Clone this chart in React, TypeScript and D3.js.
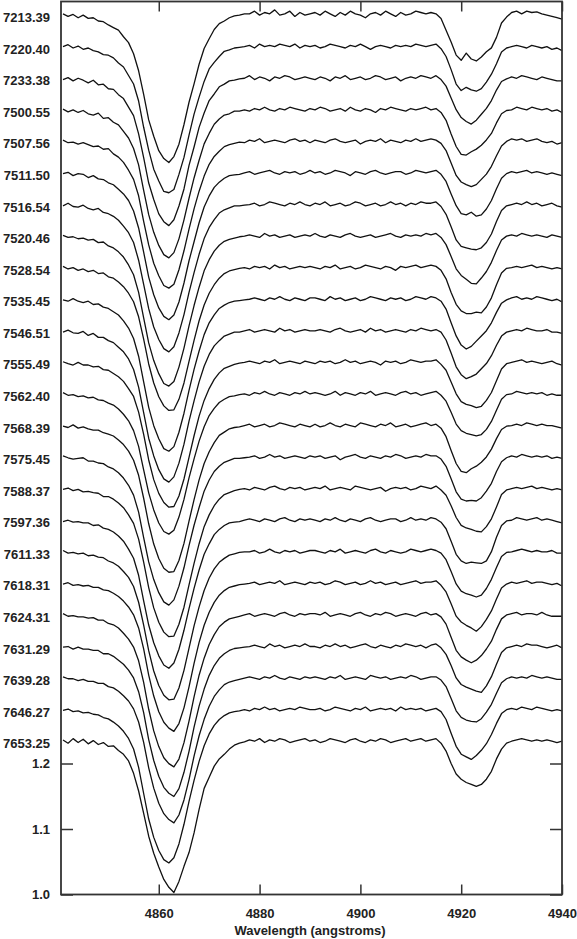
import { useEffect, useRef } from 'react';
import * as d3 from 'd3';

const WIDTH = 577;
const HEIGHT = 939;
const PLOT = { left: 61, right: 562, top: 1.5, bottom: 894.5 };

// wavelength grid: 1 angstrom steps from 4841 to 4940
const WAVE_START = 4841;
const X_DOMAIN = [4840.6, 4940];
const X_TICKS = [4860, 4880, 4900, 4920, 4940];
const Y_TICKS = [1.0, 1.1, 1.2];
const Y_MIN = 1.0;
const Y_MAX = 2.3634;

// continuum level of the lowest spectrum and the offset between spectra
const BASE_LEVEL = 1.234;
const STEP = 0.0482;

const EPOCHS = [
  '7213.39', '7220.40', '7233.38', '7500.55', '7507.56', '7511.50',
  '7516.54', '7520.46', '7528.54', '7535.45', '7546.51', '7555.49',
  '7562.40', '7568.39', '7575.45', '7588.37', '7597.36', '7611.33',
  '7618.31', '7624.31', '7631.29', '7639.28', '7646.27', '7653.25',
];

// flux minus continuum, in thousandths (4841..4940 A)
const f7213_39 = [
  2, -2, 1, -4, 0, -5, -4, -9, -10, -15, -19, -23, -33, -42, -59, -85, -121, -160, -185, -207, -219, -225, -216, -197, -167,
  -133, -105, -75, -51, -36, -22, -13, -9, -4, -1, 0, 2, 2, 6, 0, 4, 2, 8, 0, 2, 6, -2, 4, 0, 2,
  4, 0, 6, 2, -2, 4, 0, 6, 2, 0, -4, 2, 4, 0, 6, 2, -2, 4, 0, 2, 6, 4, 2, 4, 2,
  -5, -23, -41, -61, -69, -58, -67, -70, -64, -56, -50, -34, -12, -3, 4, 6, 2, 6, 4, 5, 2, 0, -2, -4, -6,
];
const f7220_40 = [
  0, 3, -2, 1, -4, -2, -6, -8, -12, -13, -17, -25, -31, -44, -57, -83, -123, -158, -187, -205, -221, -223, -218, -195, -169,
  -135, -103, -77, -53, -34, -24, -15, -7, -5, -2, -1, 0, 2, -2, 4, 0, 2, 0, 4, 2, 0, 4, -2, 2, 0,
  2, -2, 0, 4, 2, 0, -2, 2, 0, 4, 0, -4, 0, 2, 0, -2, 2, 0, 2, 0, 4, 2, 0, 2, 4,
  -3, -15, -35, -57, -67, -62, -66, -68, -64, -54, -42, -26, -8, -2, 0, 2, 0, -2, 2, 0, -2, 0, -4, -2, -6,
];
const f7233_38 = [
  -2, 1, -4, 0, -3, -7, -3, -10, -9, -16, -17, -25, -31, -44, -57, -85, -121, -160, -185, -207, -219, -225, -216, -195, -169,
  -133, -105, -75, -53, -34, -24, -13, -9, -4, -3, -1, 0, 4, -2, 2, 0, -4, 2, 0, 4, 2, -2, 0, 2, 0,
  -2, 2, 0, -4, 2, 0, 4, -2, 0, 2, -2, 0, 4, 2, -2, 0, 2, -4, 0, 2, 0, 4, 2, 0, 4,
  -2, -12, -30, -48, -60, -66, -70, -64, -55, -46, -34, -18, -5, -1, 2, 0, 4, 2, 0, -2, 2, 0, -2, -4, -4,
];
const f7500_55 = [
  1, -3, 0, -4, -1, -6, -8, -5, -13, -12, -19, -23, -33, -43, -59, -84, -123, -160, -187, -207, -221, -226, -218, -197, -168,
  -135, -104, -77, -52, -36, -22, -14, -8, -6, -2, -2, 0, -2, 2, 0, 4, 0, -2, 2, 0, 4, 2, 0, -2, 2,
  0, 4, 2, -2, 0, 2, -2, 4, 0, -2, 2, 0, -4, 2, 0, 4, 2, 0, -2, 2, 0, 2, 4, 0, 2,
  -4, -16, -37, -56, -68, -69, -64, -60, -54, -46, -36, -20, -6, -1, 0, 4, 2, 0, 4, 2, 0, 2, -2, 0, -4,
];
const f7507_56 = [
  2, -2, -1, -4, -2, -5, -8, -7, -12, -11, -19, -24, -32, -44, -58, -83, -122, -158, -186, -205, -220, -224, -218, -196, -167,
  -134, -103, -76, -53, -35, -23, -15, -8, -5, -3, -1, -2, 2, 0, 4, -2, 0, 2, 0, -2, 2, 4, 0, 2, -2,
  2, 0, -2, 2, 4, 0, -2, 0, 2, -4, 0, 2, 0, 4, -2, 2, 0, -2, 2, 0, 4, 0, 2, 4, 2,
  -3, -14, -33, -52, -62, -66, -69, -66, -58, -50, -38, -22, -7, 0, 4, 2, 4, 0, 2, 4, 0, -2, 0, -4, -2,
];
const f7511_50 = [
  -1, 1, -4, -1, -2, -7, -4, -9, -10, -15, -18, -25, -32, -42, -58, -84, -121, -159, -186, -206, -219, -224, -217, -197, -168,
  -134, -105, -76, -52, -35, -22, -14, -8, -4, -3, -2, 0, 2, -2, 0, 2, 4, 0, -2, 2, 0, 2, -2, 0, 4,
  0, 2, -2, 0, 4, 2, 0, -4, 2, 0, -2, 2, 4, 0, -2, 0, 2, 2, -2, 0, 4, 2, 0, 2, 4,
  -2, -13, -32, -50, -62, -64, -60, -66, -64, -55, -42, -24, -8, -1, 2, 0, 2, 4, 0, 2, 0, -2, 0, -2, -4,
];
const f7516_54 = [
  -2, 2, -3, -4, -1, -6, -8, -6, -12, -14, -18, -24, -33, -43, -58, -85, -122, -159, -187, -206, -220, -225, -217, -196, -168,
  -134, -104, -76, -52, -35, -23, -13, -8, -5, -2, -2, -1, 0, 2, -2, 0, 4, 2, 0, -2, 2, 0, 4, 0, -2,
  2, 0, 4, -2, 0, 2, -2, 0, 4, 2, -2, 0, 2, -2, 0, 4, 0, 2, -2, 2, 0, 4, 2, 2, 4,
  -3, -15, -34, -54, -64, -66, -68, -69, -66, -58, -45, -26, -9, -2, 0, 2, 0, 4, 0, 2, -2, 0, 2, -2, -4,
];
const f7520_46 = [
  1, -2, -1, -4, -3, -6, -5, -10, -9, -15, -18, -24, -32, -44, -59, -86, -125, -163, -190, -210, -225, -229, -222, -200, -171,
  -137, -106, -78, -53, -36, -23, -14, -8, -5, -3, -1, 0, 2, 0, -2, 4, 0, 2, -2, 0, 2, -2, 0, 2, 0,
  4, 0, -2, 2, 0, -2, 2, 4, 0, -2, 0, 2, -2, 0, 2, 4, 0, -2, 2, 0, 2, 0, 4, 2, 4,
  -2, -13, -31, -50, -60, -66, -72, -73, -64, -54, -40, -22, -6, 0, 2, 0, 4, 2, 0, 2, 0, -2, 2, 0, -2,
];
const f7528_54 = [
  2, -2, 0, -4, -2, -6, -4, -9, -8, -14, -16, -22, -29, -39, -52, -75, -109, -147, -176, -197, -211, -218, -217, -201, -176,
  -143, -111, -81, -57, -39, -26, -16, -9, -5, -3, -1, 0, -2, 2, 0, 2, -2, 4, 0, 2, -2, 0, 2, 0, 2,
  0, -2, 2, 0, 4, -2, 0, 2, -2, 0, 4, 2, 0, -2, 2, 0, -4, 2, 0, 2, 4, 0, 2, 4, 2,
  -4, -17, -38, -56, -66, -70, -70, -68, -69, -60, -46, -26, -8, -1, 0, 2, 0, 2, 4, 0, 2, 0, -2, 0, -2,
];
const f7535_45 = [
  -1, -3, 1, -3, -5, -3, -8, -7, -12, -14, -19, -24, -33, -44, -60, -87, -126, -165, -193, -213, -228, -232, -225, -203, -174,
  -139, -107, -79, -54, -36, -24, -14, -9, -5, -3, -2, -1, 0, 2, 0, -2, 2, 0, 4, 0, -2, 2, 0, -2, 2,
  2, 0, -2, 4, 0, 2, -2, 0, 2, -2, 0, 4, 2, 0, -2, 2, 0, 2, -2, 0, 4, 2, 0, 4, 2,
  -3, -15, -36, -56, -70, -76, -72, -64, -56, -48, -36, -20, -6, -1, 2, 4, 0, 2, 0, 4, 2, 0, -2, 0, -4,
];
const f7546_51 = [
  -2, 1, -3, -4, -1, -7, -4, -10, -10, -15, -18, -25, -32, -43, -59, -86, -125, -164, -191, -212, -226, -231, -223, -202, -173,
  -138, -107, -78, -54, -36, -23, -15, -8, -5, -2, -2, 0, 2, -2, 0, 2, 0, -2, 4, 0, 2, -2, 0, 2, 0,
  0, 2, 0, -2, 2, 4, 0, -2, 0, 2, -2, 4, 0, 2, -2, 0, 2, 0, -2, 2, 0, 4, 2, 0, 2,
  -2, -14, -34, -55, -67, -73, -70, -66, -58, -50, -38, -22, -8, -2, 0, 2, 0, 4, 2, 0, 0, 2, -2, -2, -4,
];
const f7555_49 = [
  1, -2, -4, 0, -4, -4, -7, -6, -11, -12, -17, -22, -29, -40, -52, -76, -110, -149, -179, -200, -214, -221, -220, -204, -178,
  -145, -112, -82, -58, -40, -26, -16, -9, -6, -3, -1, 0, 2, 0, -2, 2, 0, 4, -2, 0, 2, 0, -2, 2, 0,
  -2, 2, 0, 2, -2, 0, 4, 0, 2, -2, 0, 2, 0, -4, 2, 0, 2, -2, 0, 4, 2, 0, 2, 2, 4,
  -3, -12, -30, -48, -60, -64, -66, -69, -67, -58, -46, -28, -10, -2, 0, 2, 4, 0, 2, 0, -2, 0, 2, -2, -4,
];
const f7562_40 = [
  2, -2, -1, -4, -3, -6, -5, -9, -10, -14, -17, -23, -31, -41, -56, -80, -116, -151, -177, -197, -210, -214, -208, -188, -161,
  -128, -99, -72, -50, -33, -22, -13, -8, -4, -3, -1, 0, -2, 2, 0, 4, 0, -2, 2, 0, -2, 2, 0, 4, 0,
  2, 0, -2, 0, 4, -2, 2, 0, -2, 2, 0, 4, -2, 0, 2, 0, -2, 2, 4, 0, 2, -2, 0, 2, 4,
  -2, -11, -28, -46, -56, -60, -62, -64, -62, -54, -42, -25, -8, -1, 0, 4, 2, 0, 2, 0, 2, -2, 0, -2, -2,
];
const f7568_39 = [
  -1, -3, 1, -4, -2, -5, -7, -7, -11, -13, -16, -22, -29, -39, -53, -76, -111, -150, -181, -203, -218, -224, -223, -206, -180,
  -146, -113, -83, -58, -40, -26, -15, -10, -5, -3, -2, 0, 2, -2, 0, 2, -2, 0, 4, 2, 0, -2, 2, 0, -2,
  2, -2, 0, 4, 0, -2, 2, 0, -2, 4, 2, 0, -2, 2, 0, 4, -2, 0, 2, -2, 0, 2, 4, 0, 2,
  -4, -17, -38, -58, -70, -72, -66, -62, -56, -48, -36, -20, -6, -1, 0, 2, 0, 4, 2, 0, 2, 0, 0, -2, -4,
];
const f7575_45 = [
  2, -1, -3, -2, -1, -6, -6, -9, -10, -15, -18, -24, -32, -43, -58, -84, -123, -160, -187, -207, -221, -226, -218, -197, -169,
  -135, -104, -77, -52, -35, -22, -14, -8, -5, -2, -2, -1, 0, 2, -2, 0, 4, 0, 2, -2, 0, 2, 0, -2, 2,
  0, 2, -2, 0, 2, -4, 0, 2, 4, 0, -2, 2, 0, -2, 2, 0, 4, 2, -2, 0, 2, 0, 4, 2, 2,
  -3, -14, -33, -53, -64, -67, -66, -67, -62, -52, -40, -22, -7, -1, 2, 0, 4, 2, 0, 2, 0, 2, -2, 0, -2,
];
const f7588_37 = [
  -1, 1, -3, -1, -5, -4, -6, -7, -12, -12, -16, -22, -29, -40, -53, -77, -112, -151, -182, -204, -219, -226, -225, -207, -181,
  -147, -114, -84, -58, -40, -26, -16, -9, -6, -3, -1, 0, -2, 2, 0, -2, 2, 4, 0, -2, 2, 0, 2, -2, 0,
  2, 0, 4, -2, 0, 2, 0, -2, 4, 2, 0, -2, 0, 2, -4, 0, 2, 0, 2, -2, 0, 4, 2, 0, 4,
  -2, -10, -26, -44, -56, -60, -62, -65, -66, -58, -46, -28, -9, -2, 0, 2, 0, 2, 4, 0, 2, 0, -2, 0, -2,
];
const f7597_36 = [
  -2, 0, -3, -2, -4, -4, -8, -7, -12, -14, -18, -24, -32, -44, -58, -84, -123, -160, -187, -207, -221, -226, -218, -197, -168,
  -135, -104, -76, -52, -36, -22, -14, -8, -4, -3, -2, 0, 2, 0, -2, 2, 0, -2, 2, 4, 0, -2, 2, 0, 2,
  0, -2, 2, 0, 4, 0, -2, 2, 0, -2, 2, 4, 0, -2, 0, 2, 2, -2, 0, 4, 0, 2, 0, 4, 2,
  -3, -13, -32, -52, -62, -66, -64, -65, -66, -62, -48, -26, -8, -1, 0, 4, 2, 0, 2, 4, 0, 2, 0, -2, -4,
];
const f7611_33 = [
  2, -2, -1, -3, -2, -6, -5, -8, -9, -14, -17, -22, -30, -39, -53, -77, -112, -151, -182, -204, -219, -226, -225, -208, -181,
  -147, -113, -84, -59, -40, -26, -16, -10, -5, -3, -1, 0, 0, 2, -2, 0, 4, 0, -2, 2, 0, 2, -2, 0, 2,
  2, 0, -2, 2, 0, 4, -2, 0, 2, 0, -2, 2, 4, 0, -2, 2, 0, -2, 0, 4, 2, 0, 2, 4, 2,
  -2, -12, -30, -49, -60, -64, -66, -69, -66, -56, -42, -24, -7, -1, 0, 2, 4, 2, 0, 2, 0, 0, 2, -2, -2,
];
const f7618_31 = [
  -1, 1, -3, -2, -4, -3, -6, -6, -10, -11, -15, -20, -27, -36, -48, -68, -100, -140, -172, -196, -212, -221, -226, -214, -190,
  -158, -122, -90, -64, -44, -29, -18, -11, -6, -4, -2, -1, 0, 2, -2, 0, 2, 0, 4, -2, 0, 2, 0, -2, 2,
  0, 2, -2, 0, 4, 2, -2, 0, 2, -2, 0, 4, 0, 2, -2, 0, 2, -2, 0, 2, 4, 0, 2, 2, 4,
  -3, -13, -31, -50, -59, -64, -68, -73, -66, -55, -42, -24, -7, -1, 2, 0, 2, 4, 0, 2, 2, 0, -2, 0, -4,
];
const f7624_31 = [
  2, -2, -1, -3, -3, -5, -4, -8, -8, -13, -15, -20, -28, -37, -49, -70, -103, -144, -177, -201, -218, -227, -232, -220, -195,
  -162, -125, -92, -66, -45, -30, -18, -11, -6, -4, -2, 0, 2, -2, 0, 2, 0, -2, 2, 4, 0, -2, 2, 0, 2,
  2, 0, 4, -2, 0, 2, 0, -2, 2, 4, 0, -2, 2, 0, 4, 2, -2, 0, 2, 0, -2, 2, 4, 0, 2,
  -3, -14, -34, -54, -64, -69, -73, -69, -62, -52, -40, -22, -6, 0, 2, 4, 0, 2, 2, 0, 4, 0, -2, -2, -2,
];
const f7631_29 = [
  -1, 0, -4, -1, -4, -4, -6, -6, -11, -11, -15, -21, -27, -36, -48, -69, -101, -142, -174, -198, -215, -224, -229, -217, -192,
  -160, -123, -91, -65, -44, -29, -18, -11, -6, -3, -2, -1, 0, 2, 0, -2, 4, 0, 2, -2, 0, 2, 0, 4, 0,
  0, -2, 2, 0, 4, 0, 2, -2, 0, 2, 4, 0, -2, 2, 0, -2, 2, 0, 4, 2, 0, 2, -2, 2, 4,
  -2, -12, -29, -48, -58, -62, -65, -68, -70, -60, -46, -27, -9, -2, 0, 2, 0, 4, 2, 2, 0, -2, 0, 2, -2,
];
const f7639_28 = [
  2, -1, -1, -4, -2, -5, -5, -8, -8, -13, -15, -20, -27, -35, -47, -67, -98, -137, -168, -191, -207, -216, -221, -209, -186,
  -155, -119, -88, -63, -43, -28, -18, -10, -6, -4, -2, 0, 2, 0, -2, 2, 0, 4, 0, -2, 2, 0, -2, 2, 0,
  2, 0, -2, 2, 0, 4, -2, 0, 2, 0, -2, 4, 2, 0, 2, -2, 0, 2, 0, 4, 2, -2, 0, 2, 2,
  -3, -13, -31, -50, -60, -64, -66, -67, -62, -52, -40, -23, -7, -1, 2, 0, 2, 0, 4, 2, 0, 2, 0, -2, -2,
];
const f7646_27 = [
  -1, 1, -3, -2, -5, -4, -7, -8, -12, -14, -19, -25, -33, -44, -60, -88, -128, -167, -195, -215, -229, -234, -226, -205, -175,
  -140, -108, -79, -55, -37, -24, -15, -9, -5, -3, -2, 0, -2, 2, 0, 4, 0, 2, -2, 0, 2, 0, 4, 2, 0,
  0, 2, -2, 0, 4, 2, 0, -2, 2, 0, 4, -2, 0, 2, 0, 2, -2, 4, 0, 2, 0, 2, -2, 0, 2,
  -3, -15, -36, -56, -68, -72, -76, -70, -62, -52, -38, -21, -6, 0, 2, 0, 4, 2, 0, 4, 2, 0, -2, 0, -2,
];
const f7653_25 = [
  2, -3, 4, -2, 3, -4, 1, -5, -2, -8, -7, -14, -20, -30, -49, -76, -110, -145, -171, -192, -211, -223, -231, -214, -191,
  -170, -140, -104, -72, -55, -38, -27, -20, -12, -6, -3, -1, 2, 0, 4, -2, 2, 0, 4, 2, -2, 0, 2, 4, 0,
  2, -2, 0, 4, 2, 0, -2, 2, 4, 0, -2, 2, 0, 4, 2, -2, 0, 2, 4, 0, 2, 4, 0, 2, 4,
  -3, -15, -34, -50, -58, -63, -66, -69, -66, -58, -46, -27, -12, -3, 0, 2, 4, 2, 0, 2, 0, 2, 0, -2, 0,
];

const SPECTRA = [
  f7213_39, f7220_40, f7233_38, f7500_55, f7507_56, f7511_50,
  f7516_54, f7520_46, f7528_54, f7535_45, f7546_51, f7555_49,
  f7562_40, f7568_39, f7575_45, f7588_37, f7597_36, f7611_33,
  f7618_31, f7624_31, f7631_29, f7639_28, f7646_27, f7653_25,
];

const FONT = '"Liberation Sans", Arial, Helvetica, sans-serif';

export default function App() {
  const svgRef = useRef<SVGSVGElement>(null);

  useEffect(() => {
    const svg = d3.select(svgRef.current);
    svg.selectAll('*').remove();

    const x = d3.scaleLinear().domain(X_DOMAIN).range([PLOT.left, PLOT.right]);
    const y = d3.scaleLinear().domain([Y_MIN, Y_MAX]).range([PLOT.bottom, PLOT.top]);
    const n = SPECTRA.length;

    const line = d3.line<[number, number]>()
      .x(d => x(d[0]))
      .y(d => y(d[1]));

    // Spectra, top one first
    SPECTRA.forEach((dev, i) => {
      const level = BASE_LEVEL + (n - 1 - i) * STEP;
      const pts: [number, number][] = dev.map((v, k) => [WAVE_START + k, level + v / 1000]);
      svg.append('path')
        .datum(pts)
        .attr('fill', 'none')
        .attr('stroke', '#111')
        .attr('stroke-width', 1.3)
        .attr('stroke-linejoin', 'round')
        .attr('d', line);

      svg.append('text')
        .attr('x', 50).attr('y', y(level) + 7)
        .attr('text-anchor', 'end')
        .attr('font-family', FONT).attr('font-weight', 'bold').attr('font-size', '13px')
        .attr('fill', '#222')
        .text(EPOCHS[i]);
    });

    // Axes, ticks pointing inward
    const styleAxis = (g: d3.Selection<SVGGElement, unknown, null, undefined>) => {
      g.select('.domain').remove();
      g.selectAll('line').attr('stroke', '#333').attr('stroke-width', 1.5);
      g.selectAll('text')
        .attr('font-family', FONT).attr('font-weight', 'bold').attr('font-size', '13px')
        .attr('fill', '#222');
    };

    svg.append('g')
      .attr('transform', `translate(0,${PLOT.bottom})`)
      .call(d3.axisBottom(x).tickValues(X_TICKS).tickSize(-10).tickPadding(14).tickFormat(d3.format('d')))
      .call(styleAxis);
    svg.append('g')
      .attr('transform', `translate(0,${PLOT.top})`)
      .call(d3.axisTop(x).tickValues(X_TICKS).tickSize(-10).tickFormat(() => ''))
      .call(styleAxis);
    svg.append('g')
      .attr('transform', `translate(${PLOT.left},0)`)
      .call(d3.axisLeft(y).tickValues(Y_TICKS).tickSize(-12).tickPadding(11).tickFormat(d3.format('.1f')))
      .call(styleAxis);
    svg.append('g')
      .attr('transform', `translate(${PLOT.right},0)`)
      .call(d3.axisRight(y).tickValues(Y_TICKS).tickSize(-12).tickFormat(() => ''))
      .call(styleAxis);

    // Frame
    svg.append('rect')
      .attr('x', PLOT.left).attr('y', PLOT.top)
      .attr('width', PLOT.right - PLOT.left).attr('height', PLOT.bottom - PLOT.top)
      .attr('fill', 'none').attr('stroke', '#333').attr('stroke-width', 1.8);

    svg.append('text')
      .attr('x', 310).attr('y', 935)
      .attr('text-anchor', 'middle')
      .attr('font-family', FONT).attr('font-weight', 'bold').attr('font-size', '13px')
      .attr('fill', '#222')
      .text('Wavelength (angstroms)');
  }, []);

  return (
    <div style={{ position: 'absolute', left: 0, top: 0, background: '#fff' }}>
      <svg ref={svgRef} width={WIDTH} height={HEIGHT} style={{ display: 'block' }} />
    </div>
  );
}
